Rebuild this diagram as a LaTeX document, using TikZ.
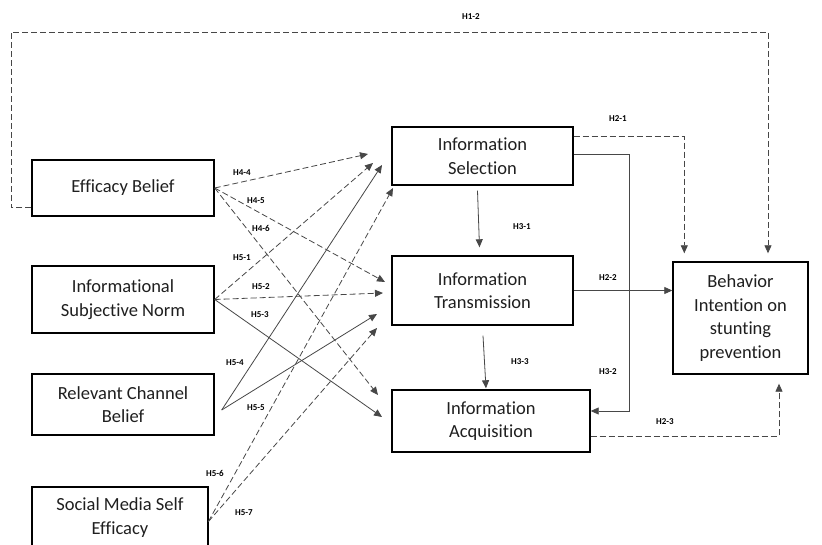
\documentclass[tikz,border=0pt]{standalone}
\usepackage{fontspec}
\setmainfont[Ligatures={NoCommon}]{Carlito}
\usetikzlibrary{arrows.meta,calc}
\begin{document}
\begin{tikzpicture}[x=1pt,y=-1pt,
  box/.style={draw=black,line width=1.4pt,align=center,inner sep=0pt,text=black!88,font=\fontsize{18.5}{23.5}\selectfont},
  lab/.style={font=\bfseries\fontsize{9}{10}\selectfont,inner sep=0pt},
  conn/.style={draw=black!72,line width=0.8pt,-{Triangle[length=8pt,width=7pt]}},
  dsh/.style={dash pattern=on 6pt off 3pt}]
\useasboundingbox (0,0) rectangle (822,545);
\clip (0,0) rectangle (822,545);
\fill[white] (0,0) rectangle (822,545);
% boxes
\node[box,minimum width=182pt,minimum height=56pt] (eb) at (123,188) {Efficacy Belief};
\node[box,minimum width=182pt,minimum height=67pt] (isn) at (123,299.5) {Informational\\Subjective Norm};
\node[box,minimum width=182pt,minimum height=61pt] (rcb) at (123,404.5) {Relevant Channel\\Belief};
\node[box,minimum width=176pt,minimum height=61pt] (smse) at (120,517.5) {Social Media Self\\Efficacy};
\node[box,minimum width=181pt,minimum height=58pt] (sel) at (482.5,156) {Information\\Selection};
\node[box,minimum width=181pt,minimum height=69pt] (tra) at (482.5,290.5) {Information\\Transmission};
\node[box,minimum width=198pt,minimum height=62pt] (acq) at (491,421) {Information\\Acquisition};
\node[box,minimum width=135pt,minimum height=112pt] (beh) at (740.5,318) {Behavior\\Intention on\\stunting\\prevention};
% free ends
\coordinate (rcbo) at (221.7,410);
\coordinate (smo) at (208.3,521.7);
\coordinate (t44) at (368,154);
\coordinate (t45) at (385,282);
\coordinate (t46) at (378,395);
\coordinate (t51) at (373,163);
\coordinate (t52) at (383,293);
\coordinate (t53) at (382,417);
\coordinate (t54) at (382,165);
\coordinate (t55) at (377,314);
\coordinate (t56) at (393,188);
\coordinate (t57) at (377,328);
\coordinate (h12a) at (11,32);
\coordinate (h12b) at (768,32);
\coordinate (h32) at (629,411);
% left connectors
\draw[conn,dsh] (eb.east) -- (t44);
\draw[conn,dsh] (eb.east) -- (t45);
\draw[conn,dsh] (eb.east) -- (t46);
\draw[conn,dsh] (isn.east) -- (t51);
\draw[conn,dsh] (isn.east) -- (t52);
\draw[conn] (isn.east) -- (t53);
\draw[conn] (rcbo) -- (t54);
\draw[conn] (rcbo) -- (t55);
\draw[conn,dsh] (smo) -- (t56);
\draw[conn,dsh] (smo) -- (t57);
% right connectors
\draw[conn,dsh] ([yshift=9pt]eb.south west) -| (h12a) -- (h12b) -- ([xshift=27.5pt,yshift=8pt]beh.north);
\draw[conn,dsh] ([yshift=-10pt]sel.north east) -| ([xshift=12pt,yshift=8pt]beh.north west);
\draw[conn] ([yshift=2pt]sel.east) -| (h32) -- ([yshift=10pt]acq.east);
\draw[conn] (tra.east) -- (tra.east -| beh.west);
\draw[conn,dsh] ([yshift=-15pt]acq.east) -| ([xshift=38.5pt,yshift=-9pt]beh.south);
\draw[conn] ([xshift=-5pt,yshift=-5pt]sel.south) -- ([xshift=-3pt,yshift=8pt]tra.north);
\draw[conn] ([xshift=0.5pt,yshift=-10pt]tra.south) -- ([xshift=-5pt,yshift=1pt]acq.north);
% labels
\node[lab] (l12) at (471,17) {H1-2};
\node[lab] (l21) at (618,119) {H2-1};
\node[lab] (l22) at (608,278) {H2-2};
\node[lab] (l23) at (665,422) {H2-3};
\node[lab] (l31) at (522,227) {H3-1};
\node[lab] (l32) at (608,372) {H3-2};
\node[lab] (l33) at (520,362) {H3-3};
\node[lab] (l44) at (242,173) {H4-4};
\node[lab] (l45) at (256,201) {H4-5};
\node[lab] (l46) at (261,228) {H4-6};
\node[lab] (l51) at (242,258) {H5-1};
\node[lab] (l52) at (261,287) {H5-2};
\node[lab] (l53) at (260,315) {H5-3};
\node[lab] (l54) at (235,363) {H5-4};
\node[lab] (l55) at (256,408) {H5-5};
\node[lab] (l56) at (215,473) {H5-6};
\node[lab] (l57) at (244,513) {H5-7};
\end{tikzpicture}
\end{document}
